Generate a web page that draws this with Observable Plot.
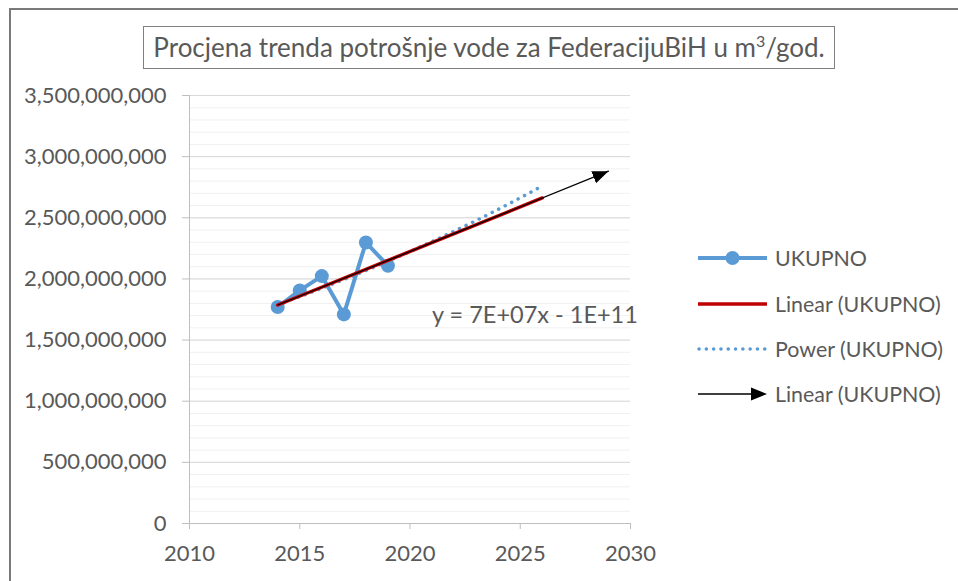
<!DOCTYPE html>
<html>
<head>
<meta charset="utf-8">
<script src="https://cdn.jsdelivr.net/npm/d3@7"></script>
<script src="https://cdn.jsdelivr.net/npm/@observablehq/plot@0.6"></script>
<style>
  html, body { margin: 0; padding: 0; background: #fff; }
  #wrap { position: relative; width: 958px; height: 581px; overflow: hidden; font-family: Lato, "Open Sans", sans-serif; color: #595959; }
  #frame { position: absolute; left: 9px; top: 8px; width: 1000px; height: 1000px; border: 2px solid #7a7a7a; box-sizing: border-box; }
  #plot { position: absolute; left: 0; top: 0; }
  #title { position: absolute; left: 143px; top: 26px; width: 692px; height: 43px; border: 1px solid #808080; box-sizing: border-box; background: #fff;
           font-size: 26px; line-height: 41px; text-align: center; white-space: nowrap; }
  #title sup { font-size: 16px; vertical-align: 0; position: relative; top: -10px; }
  #eq { position: absolute; left: 432px; top: 300px; font-size: 23.5px; white-space: nowrap; }
  .leg { position: absolute; left: 697px; height: 24px; display: flex; align-items: center; font-size: 21.4px; white-space: nowrap; }
  .leg svg { margin-right: 6px; }
</style>
</head>
<body>
<div id="wrap">
  <div id="frame"></div>
  <div id="plot"></div>
  <div id="title">Procjena trenda potrošnje vode za FederacijuBiH u m<sup>3</sup>/god.</div>
  <div id="eq">y = 7E+07x - 1E+11</div>
  <div id="legend"></div>
</div>
<script>
// ---- data ----
const years = [2014, 2015, 2016, 2017, 2018, 2019];
const ukupno = [1770000000, 1906000000, 2023000000, 1710000000, 2298000000, 2108000000];
const xTicks = [2010, 2015, 2020, 2025, 2030];
const yTicks = [0, 500000000, 1000000000, 1500000000, 2000000000, 2500000000, 3000000000, 3500000000];
const yMinorTicks = d3.range(0, 3500000001, 100000000);
const trendEnd = 2026;     // forecast end of trend lines
const arrowEnd = 2029;     // forecast end of arrow trend
const legendLabels = ["UKUPNO", "Linear (UKUPNO)", "Power (UKUPNO)", "Linear (UKUPNO)"];

const data = years.map((x, i) => ({x, y: ukupno[i]}));

// linear regression
const mx = d3.mean(years), my = d3.mean(ukupno);
const slope = d3.sum(years, (x, i) => (x - mx) * (ukupno[i] - my)) / d3.sum(years, x => (x - mx) ** 2);
const intercept = my - slope * mx;
const lin = x => intercept + slope * x;
const linPts = [years[0], trendEnd].map(x => ({x, y: lin(x)}));
const arrowPts = [years[0], arrowEnd].map(x => ({x, y: lin(x)}));

// power regression y = a * x^b
const lx = years.map(Math.log), ly = ukupno.map(Math.log);
const mlx = d3.mean(lx), mly = d3.mean(ly);
const b = d3.sum(lx, (v, i) => (v - mlx) * (ly[i] - mly)) / d3.sum(lx, v => (v - mlx) ** 2);
const lnA = mly - b * mlx;
const pow = x => Math.exp(lnA + b * Math.log(x));
const powPts = d3.range(years[0], trendEnd + 0.001, 0.1).map(x => ({x, y: pow(x)}));

const blue = "#5b9bd5", red = "#c00000", grey = "#595959";

function arrowHead(color, context) {
  const ns = "http://www.w3.org/2000/svg";
  const doc = context.document;
  const m = doc.createElementNS(ns, "marker");
  m.setAttribute("viewBox", "-16 -7 16 14");
  m.setAttribute("markerWidth", 16);
  m.setAttribute("markerHeight", 14);
  m.setAttribute("markerUnits", "userSpaceOnUse");
  m.setAttribute("orient", "auto");
  m.setAttribute("refX", 0);
  m.setAttribute("refY", 0);
  const p = doc.createElementNS(ns, "path");
  p.setAttribute("d", "M-16,-6.5L0,0L-16,6.5Z");
  p.setAttribute("fill", "black");
  p.setAttribute("stroke", "none");
  m.appendChild(p);
  return m;
}

const chart = Plot.plot({
  width: 958,
  height: 581,
  marginLeft: 189,
  marginRight: 328,
  marginTop: 95,
  marginBottom: 58,
  style: {fontFamily: "Lato, 'Open Sans', sans-serif", fontSize: "22px", color: grey, background: "transparent", overflow: "visible"},
  x: {type: "linear", domain: [2010, 2030], label: null},
  y: {type: "linear", domain: [0, 3500000000], label: null},
  marks: [
    Plot.ruleY(yMinorTicks, {stroke: "#f0f0f0", strokeWidth: 1}),
    Plot.ruleY(yTicks, {stroke: "#d9d9d9", strokeWidth: 1}),
    Plot.ruleX([2010], {stroke: "#bfbfbf", strokeWidth: 1}),
    Plot.ruleY([0], {stroke: "#bfbfbf", strokeWidth: 1}),
    Plot.axisY({ticks: yTicks, tickSize: 7, stroke: "#bfbfbf", text: null, label: null}),
    Plot.axisY({ticks: yTicks, tickSize: 0, tickPadding: 23, tickFormat: d3.format(","), fill: grey, fontSize: 22, label: null}),
    Plot.axisX({ticks: xTicks, tickSize: 6, stroke: "#bfbfbf", text: null, label: null}),
    Plot.axisX({ticks: xTicks, tickSize: 0, tickPadding: 22, tickFormat: d => String(d), fill: grey, fontSize: 22, label: null}),
    Plot.line(data, {x: "x", y: "y", stroke: blue, strokeWidth: 4}),
    Plot.dot(data, {x: "x", y: "y", r: 7, fill: blue, stroke: null}),
    Plot.line(powPts, {x: "x", y: "y", stroke: blue, strokeWidth: 3.5, strokeDasharray: "0.1 7.2", strokeLinecap: "round"}),
    Plot.line(linPts, {x: "x", y: "y", stroke: red, strokeWidth: 3.5}),
    Plot.line(arrowPts, {x: "x", y: "y", stroke: "black", strokeWidth: 1.3, markerEnd: arrowHead})
  ]
});
document.getElementById("plot").appendChild(chart);

// legend
const legendTops = [246, 292, 337, 382];
const swatches = [
  `<svg width="72" height="20"><line x1="1" y1="10" x2="70" y2="10" stroke="${blue}" stroke-width="4"/><circle cx="35.5" cy="10" r="7" fill="${blue}"/></svg>`,
  `<svg width="72" height="20"><line x1="1" y1="10" x2="70" y2="10" stroke="${red}" stroke-width="3.5"/></svg>`,
  `<svg width="72" height="20"><line x1="2" y1="10" x2="70" y2="10" stroke="${blue}" stroke-width="3.5" stroke-dasharray="0.1 7.2" stroke-linecap="round"/></svg>`,
  `<svg width="72" height="20"><line x1="1" y1="10" x2="56" y2="10" stroke="black" stroke-width="1.3"/><path d="M54,3.5L70,10L54,16.5Z" fill="black"/></svg>`
];
const leg = document.getElementById("legend");
legendLabels.forEach((label, i) => {
  const d = document.createElement("div");
  d.className = "leg";
  d.style.top = legendTops[i] + "px";
  d.innerHTML = swatches[i] + `<span>${label}</span>`;
  leg.appendChild(d);
});
</script>
</body>
</html>
